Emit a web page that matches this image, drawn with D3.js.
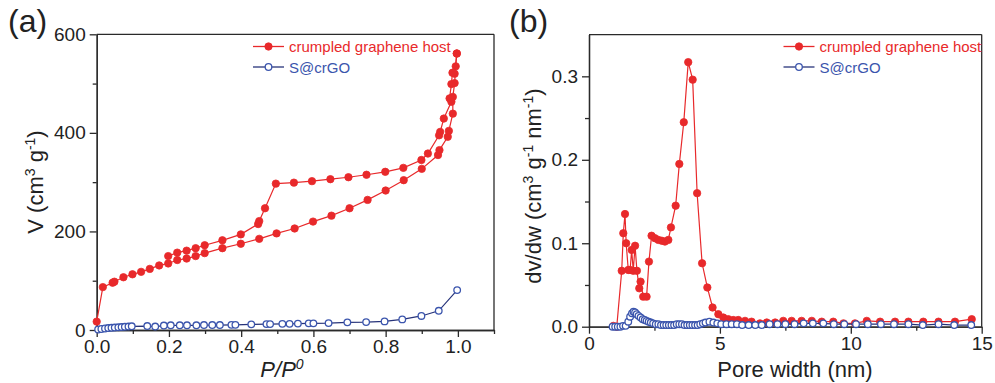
<!DOCTYPE html>
<html>
<head>
<meta charset="utf-8">
<script src="https://cdn.jsdelivr.net/npm/d3@7"></script>
<style>
  html, body { margin: 0; padding: 0; background: #fff; }
  svg { display: block; }
  text { font-family: "Liberation Sans", Arial, sans-serif; }
</style>
</head>
<body>
<svg id="chart" width="995" height="383"></svg>
<script>
// ---------- Data: panel (a) N2 isotherm ----------
const hostAdsP = [0.0,0.017,0.044,0.049,0.074,0.099,0.123,0.147,0.173,0.198,0.223,0.249,0.274,0.299,0.348,0.399,0.45,0.498,0.548,0.599,0.65,0.70,0.75,0.80,0.85,0.90,0.945,0.949,0.972,0.975,0.986,0.986,0.991,0.994,0.997];
const hostAdsV = [17,87,96,98,107,113,118,124,131,135,142,145,150,156,166,175,185,196,206,220,232,247,264,283,304,327,355,365,392,404,439,473,501,535,561];
const hostDesP = [0.997,0.991,0.985,0.982,0.977,0.982,0.961,0.951,0.948,0.917,0.899,0.849,0.799,0.747,0.697,0.647,0.596,0.546,0.496,0.466,0.45,0.447,0.399,0.348,0.299,0.274,0.249,0.223,0.198];
const hostDesV = [561,520,522,499,470,463,429,402,395,358,345,329,321,315,310,306,302,299,297,247,221,215,194,182,172,166,161,157,150];
const scrgoP = [0.004,0.013,0.023,0.032,0.041,0.050,0.060,0.069,0.078,0.088,0.097,0.14,0.162,0.186,0.205,0.23,0.25,0.276,0.297,0.32,0.341,0.373,0.384,0.428,0.47,0.48,0.514,0.534,0.557,0.587,0.6,0.642,0.694,0.746,0.797,0.846,0.899,0.947,0.998];
const scrgoV = [1,2,3,4,4.5,5,5.5,6,6.5,7,7.5,8,7,9,9.5,9.5,9.5,9.5,10,10,10,10.5,10.5,11.5,12,12,12.5,12.5,13,13.5,13.5,14,15.5,16,17.5,21.5,28.5,39,81];

// ---------- Data: panel (b) pore size distribution ----------
const hostW = [0.93,1.06,1.25,1.31,1.375,1.42,1.50,1.57,1.63,1.69,1.76,1.83,1.92,1.97,2.07,2.2,2.29,2.39,2.52,2.65,2.78,2.9,3.03,3.13,3.31,3.45,3.62,3.79,3.96,4.13,4.32,4.52,4.72,4.94,5.13,5.32,5.51,5.70,5.96,6.21,6.53,6.79,7.11,7.42,7.74,8.12,8.51,8.89,9.33,9.72,10.16,10.61,11.12,11.69,12.2,12.77,13.35,13.98,14.62];
const hostDV = [0.001,0.000,0.067,0.112,0.135,0.100,0.068,0.068,0.092,0.067,0.097,0.067,0.046,0.054,0.036,0.036,0.078,0.109,0.106,0.104,0.103,0.102,0.104,0.119,0.145,0.195,0.245,0.317,0.296,0.160,0.076,0.047,0.023,0.015,0.011,0.009,0.008,0.008,0.007,0.006,0.004,0.005,0.005,0.007,0.007,0.007,0.007,0.006,0.006,0.004,0.004,0.007,0.006,0.006,0.006,0.006,0.006,0.006,0.009];
const scrgoW = [0.9,1.0,1.1,1.2,1.3,1.4,1.5,1.57,1.64,1.70,1.76,1.82,1.89,1.97,2.05,2.13,2.2,2.28,2.36,2.45,2.55,2.65,2.75,2.85,2.95,3.05,3.15,3.25,3.35,3.45,3.55,3.65,3.75,3.85,3.95,4.05,4.15,4.25,4.35,4.45,4.6,4.75,4.9,5.05,5.25,5.45,5.65,5.85,6.1,6.35,6.6,6.9,7.2,7.5,7.85,8.2,8.55,8.95,9.35,9.75,10.2,10.65,11.15,11.65,12.2,12.75,13.35,13.95,14.6];
const scrgoDV = [0,0,0,0,0.001,0.001,0.006,0.012,0.016,0.018,0.017,0.015,0.013,0.011,0.009,0.008,0.007,0.006,0.005,0.004,0.003,0.003,0.002,0.002,0.002,0.002,0.002,0.002,0.003,0.003,0.003,0.002,0.002,0.002,0.002,0.002,0.002,0.003,0.004,0.005,0.006,0.005,0.004,0.003,0.003,0.003,0.003,0.002,0.002,0.002,0.002,0.003,0.003,0.003,0.003,0.004,0.004,0.004,0.003,0.003,0.003,0.003,0.003,0.003,0.003,0.002,0.003,0.002,0.002];

// ---------- Ticks and labels ----------
const aXMajor = [0,0.2,0.4,0.6,0.8,1.0];
const aXMinor = [0.1,0.3,0.5,0.7,0.9,1.1];
const aYMajor = [0,200,400,600];
const aYMinor = [100,300,500];
const bXMajor = [0,5,10,15];
const bXMinor = [2.5,7.5,12.5];
const bYMajor = [0,0.1,0.2,0.3];
const bYMinor = [0.05,0.15,0.25];
const seriesNames = ["crumpled graphene host", "S@crGO"];

const RED = "#e8292b", NAVY = "#27337a", BLUE = "#3b55ad", AX = "#2a2a2a";
const svg = d3.select("#chart");

function zip(a, b) { return a.map((v, i) => [v, b[i]]); }

function drawAxes(g, x, y, xMaj, xMin, yMaj, yMin, xFmt, yFmt) {
  const [x0, x1] = x.range(), [y0, y1] = y.range();
  const bx = g.append("g").attr("transform", `translate(0,${y0})`)
    .call(d3.axisBottom(x).tickValues(xMaj).tickFormat(xFmt).tickSizeInner(7).tickSizeOuter(0).tickPadding(3));
  const bxm = g.append("g").attr("transform", `translate(0,${y0})`)
    .call(d3.axisBottom(x).tickValues(xMin).tickFormat("").tickSizeInner(4).tickSizeOuter(0));
  const ly = g.append("g").attr("transform", `translate(${x0},0)`)
    .call(d3.axisLeft(y).tickValues(yMaj).tickFormat(yFmt).tickSizeInner(7).tickSizeOuter(0).tickPadding(4));
  const lym = g.append("g").attr("transform", `translate(${x0},0)`)
    .call(d3.axisLeft(y).tickValues(yMin).tickFormat("").tickSizeInner(4).tickSizeOuter(0));
  [bx, bxm, ly, lym].forEach(a => {
    a.selectAll("path").attr("stroke", AX).attr("stroke-width", 1.3);
    a.selectAll("line").attr("stroke", AX).attr("stroke-width", 1.3);
    a.selectAll("text").attr("fill", "#222").style("font-size", "19px")
      .style("font-family", '"Liberation Sans", Arial, sans-serif');
  });
  g.append("line").attr("x1", x0).attr("x2", x1).attr("y1", y1).attr("y2", y1)
    .attr("stroke", AX).attr("stroke-width", 1.3);
  g.append("line").attr("x1", x1).attr("x2", x1).attr("y1", y1).attr("y2", y0)
    .attr("stroke", AX).attr("stroke-width", 1.3);
}

function drawSeries(g, x, y, pts, filled) {
  const line = d3.line().x(d => x(d[0])).y(d => y(d[1]));
  g.append("path").datum(pts).attr("d", line).attr("fill", "none")
    .attr("stroke", filled ? RED : NAVY).attr("stroke-width", 1.2);
  g.selectAll(null).data(pts).enter().append("circle")
    .attr("cx", d => x(d[0])).attr("cy", d => y(d[1])).attr("r", filled ? 3.7 : 3.3)
    .attr("fill", filled ? RED : "#fff")
    .attr("stroke", filled ? RED : BLUE).attr("stroke-width", filled ? 0.8 : 1.3);
}

function drawLegend(g, xLine, yRow1) {
  const rows = [{name: seriesNames[0], filled: true, col: RED}, {name: seriesNames[1], filled: false, col: BLUE}];
  rows.forEach((r, i) => {
    const yy = yRow1 + i * 20.5;
    g.append("line").attr("x1", xLine).attr("x2", xLine + 31).attr("y1", yy).attr("y2", yy)
      .attr("stroke", r.filled ? RED : NAVY).attr("stroke-width", 1.3);
    g.append("circle").attr("cx", xLine + 15.5).attr("cy", yy).attr("r", r.filled ? 3.7 : 3.3)
      .attr("fill", r.filled ? RED : "#fff").attr("stroke", r.filled ? RED : BLUE).attr("stroke-width", r.filled ? 0.8 : 1.3);
    g.append("text").attr("x", xLine + 36).attr("y", yy + 5.5).attr("fill", r.col)
      .style("font-size", "15px").text(r.name);
  });
}

// ---------- Panel (a) ----------
const ga = svg.append("g");
const xa = d3.scaleLinear().domain([0, 1.1]).range([96.7, 494]);
const ya = d3.scaleLinear().domain([0, 600]).range([330, 34.3]);
drawAxes(ga, xa, ya, aXMajor, aXMinor, aYMajor, aYMinor, d3.format(".1f"), d3.format("d"));
drawSeries(ga, xa, ya, zip(scrgoP, scrgoV), false);
drawSeries(ga, xa, ya, zip(hostAdsP, hostAdsV), true);
drawSeries(ga, xa, ya, zip(hostDesP, hostDesV), true);
drawLegend(ga, 253, 46.5);
ga.append("text").attr("x", 8).attr("y", 32).style("font-size", "32px").attr("fill", "#222").text("(a)");
const yla = ga.append("text").attr("transform", "translate(43,182) rotate(-90)")
  .attr("text-anchor", "middle").style("font-size", "22px").attr("fill", "#222");
yla.append("tspan").text("V (cm");
yla.append("tspan").attr("dy", -8).style("font-size", "14px").text("3");
yla.append("tspan").attr("dy", 8).text(" g");
yla.append("tspan").attr("dy", -8).style("font-size", "14px").text("-1");
yla.append("tspan").attr("dy", 8).text(")");
const xla = ga.append("text").attr("x", 282).attr("y", 377).attr("text-anchor", "middle")
  .style("font-size", "22px").style("font-style", "italic").attr("fill", "#222");
xla.append("tspan").text("P/P");
xla.append("tspan").attr("dy", -8).style("font-size", "14px").text("0");

// ---------- Panel (b) ----------
const gb = svg.append("g");
const xb = d3.scaleLinear().domain([0, 15]).range([589, 981.7]);
const yb = d3.scaleLinear().domain([0, 0.35]).range([326.7, 34.6]);
drawAxes(gb, xb, yb, bXMajor, bXMinor, bYMajor, bYMinor, d3.format("d"), d3.format(".1f"));
drawSeries(gb, xb, yb, zip(hostW, hostDV), true);
drawSeries(gb, xb, yb, zip(scrgoW, scrgoDV), false);
drawLegend(gb, 783.5, 46.5);
gb.append("text").attr("x", 509).attr("y", 32).style("font-size", "32px").attr("fill", "#222").text("(b)");
const ylb = gb.append("text").attr("transform", "translate(541,186) rotate(-90)")
  .attr("text-anchor", "middle").style("font-size", "22px").attr("fill", "#222");
ylb.append("tspan").text("dv/dw (cm");
ylb.append("tspan").attr("dy", -8).style("font-size", "14px").text("3");
ylb.append("tspan").attr("dy", 8).text(" g");
ylb.append("tspan").attr("dy", -8).style("font-size", "14px").text("-1");
ylb.append("tspan").attr("dy", 8).text(" nm");
ylb.append("tspan").attr("dy", -8).style("font-size", "14px").text("-1");
ylb.append("tspan").attr("dy", 8).text(")");
gb.append("text").attr("x", 795).attr("y", 377).attr("text-anchor", "middle")
  .style("font-size", "22px").attr("fill", "#222").text("Pore width (nm)");
</script>
</body>
</html>
